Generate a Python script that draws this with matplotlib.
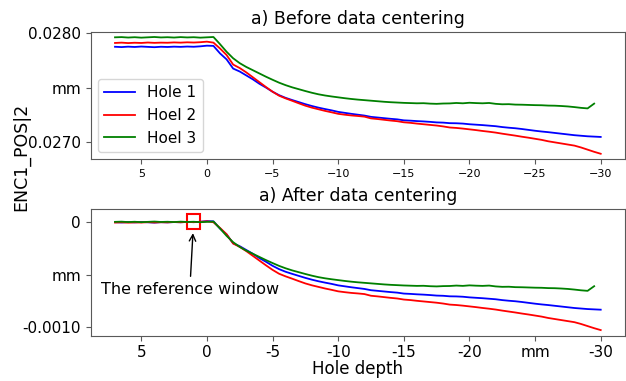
import numpy as np
import matplotlib
matplotlib.use('Agg')
import matplotlib.pyplot as plt
from matplotlib.patches import Rectangle

# hole depth [mm], sampled every 0.5 mm from the entry side
depth = [7.0, 6.5, 6.0, 5.5, 5.0, 4.5, 4.0, 3.5, 3.0, 2.5, 2.0, 1.5, 1.0, 0.5,
         0.0, -0.5, -1.0, -1.5, -2.0, -2.5, -3.0, -3.5, -4.0, -4.5, -5.0,
         -5.5, -6.0, -6.5, -7.0, -7.5, -8.0, -8.5, -9.0, -9.5, -10.0,
         -10.5, -11.0, -11.5, -12.0, -12.5, -13.0, -13.5, -14.0, -14.5, -15.0,
         -15.5, -16.0, -16.5, -17.0, -17.5, -18.0, -18.5, -19.0, -19.5, -20.0,
         -20.5, -21.0, -21.5, -22.0, -22.5, -23.0, -23.5, -24.0, -24.5, -25.0,
         -25.5, -26.0, -26.5, -27.0, -27.5, -28.0, -28.5, -29.0, -29.5, -30.0]

# ENC1_POS|2 readings [mm]
hole1 = [0.027876, 0.027873, 0.027877, 0.027874, 0.027878, 0.027875, 0.027872,
         0.027876, 0.027874, 0.027877, 0.027875, 0.027878, 0.027876, 0.027880,
         0.027886, 0.027884, 0.027815, 0.027760, 0.027675, 0.027648, 0.027612,
         0.027576, 0.027535, 0.027500, 0.027462, 0.027430, 0.027405, 0.027385,
         0.027366, 0.027347, 0.027330, 0.027315, 0.027302, 0.027290, 0.027276,
         0.027267, 0.027258, 0.027250, 0.027242, 0.027230, 0.027224, 0.027218,
         0.027212, 0.027207, 0.027198, 0.027195, 0.027191, 0.027188, 0.027184,
         0.027179, 0.027177, 0.027172, 0.027171, 0.027168, 0.027162, 0.027158,
         0.027154, 0.027149, 0.027144, 0.027136, 0.027130, 0.027125, 0.027118,
         0.027110, 0.027102, 0.027095, 0.027089, 0.027082, 0.027075, 0.027068,
         0.027061, 0.027056, 0.027051, 0.027048, 0.027045]

hole2 = [0.027911, 0.027914, 0.027910, 0.027913, 0.027911, 0.027915, 0.027912,
         0.027914, 0.027913, 0.027916, 0.027914, 0.027917, 0.027915, 0.027918,
         0.027923, 0.027914, 0.027860, 0.027800, 0.027712, 0.027680, 0.027640,
         0.027595, 0.027550, 0.027505, 0.027462, 0.027425, 0.027400, 0.027378,
         0.027355, 0.027333, 0.027315, 0.027300, 0.027285, 0.027272, 0.027258,
         0.027250, 0.027243, 0.027238, 0.027232, 0.027216, 0.027210, 0.027203,
         0.027196, 0.027190, 0.027180, 0.027175, 0.027168, 0.027162, 0.027156,
         0.027150, 0.027142, 0.027132, 0.027128, 0.027122, 0.027115, 0.027108,
         0.027100, 0.027093, 0.027085, 0.027075, 0.027066, 0.027057, 0.027047,
         0.027038, 0.027028, 0.027018, 0.027005, 0.026995, 0.026985, 0.026975,
         0.026965, 0.026948, 0.026928, 0.026908, 0.026890]

# hole 3 stops half a step earlier
hole3 = [0.027963, 0.027965, 0.027961, 0.027964, 0.027960, 0.027963, 0.027966,
         0.027962, 0.027964, 0.027961, 0.027965, 0.027962, 0.027964, 0.027960,
         0.027963, 0.027966, 0.027900, 0.027830, 0.027770, 0.027725, 0.027690,
         0.027660, 0.027630, 0.027600, 0.027572, 0.027545, 0.027522, 0.027502,
         0.027485, 0.027468, 0.027452, 0.027438, 0.027427, 0.027418, 0.027410,
         0.027402, 0.027395, 0.027389, 0.027384, 0.027379, 0.027374, 0.027369,
         0.027365, 0.027362, 0.027359, 0.027357, 0.027355, 0.027356, 0.027352,
         0.027350, 0.027353, 0.027354, 0.027358, 0.027355, 0.027360, 0.027357,
         0.027355, 0.027358, 0.027350, 0.027346, 0.027347, 0.027343, 0.027342,
         0.027340, 0.027338, 0.027337, 0.027334, 0.027333, 0.027330, 0.027326,
         0.027320, 0.027313, 0.027308, 0.027352]

labels = ['Hole 1', 'Hoel 2', 'Hoel 3']
colors = ['blue', 'red', 'green']

# reference window used for centering [mm depth]
ref_window = (0.5, 1.5)

top_ticks = [0.0280, 0.0275, 0.0270]
top_ticklabels = ['0.0280', 'mm', '0.0270']
bot_ticks = [0.0, -0.0005, -0.0010]
bot_ticklabels = ['0', 'mm', '-0.0010']
x_ticks = [5, 0, -5, -10, -15, -20, -25, -30]
x_ticklabels = ['5', '0', '-5', '-10', '-15', '-20', 'mm', '-30']


def centered(d, v):
  d = np.asarray(d)
  v = np.asarray(v)
  m = (d >= ref_window[0]) & (d <= ref_window[1])
  return v - v[m].mean()


def frame(ax):
  for s in ax.spines.values():
    s.set_edgecolor('0.35')
  ax.tick_params(color='0.35')


fig = plt.figure(figsize=(6.26, 3.81), dpi=100)
ax1 = fig.add_axes([0.1449, 0.5819, 0.8535, 0.3341])
ax2 = fig.add_axes([0.1449, 0.1189, 0.8535, 0.3325])

series = [hole1, hole2, hole3]

#top plot: raw readings
for vals, lab, col in zip(series, labels, colors):
  ax1.plot(depth[:len(vals)], vals, color=col, linewidth=1.3, label=lab)
ax1.set_xlim(8.85, -31.85)
ax1.set_ylim(0.026839, 0.028012)
ax1.set_xticks(x_ticks)
ax1.tick_params(axis='x', labelsize=8)
ax1.set_yticks(top_ticks)
ax1.set_yticklabels(top_ticklabels, fontsize=11)
ax1.set_title('a) Before data centering', fontsize=12.5)
ax1.legend(loc='lower left', fontsize=11)
frame(ax1)

#bottom plot: each hole minus its mean in the reference window
for vals, lab, col in zip(series, labels, colors):
  d = depth[:len(vals)]
  ax2.plot(d, centered(d, vals), color=col, linewidth=1.3, label=lab)
ax2.set_xlim(8.85, -31.85)
ax2.set_ylim(-0.00108, 0.000123)
ax2.set_xticks(x_ticks)
ax2.set_xticklabels(x_ticklabels, fontsize=11)
ax2.set_yticks(bot_ticks)
ax2.set_yticklabels(bot_ticklabels, fontsize=11)
ax2.set_title('a) After data centering', fontsize=12.5)
ax2.set_xlabel('Hole depth', fontsize=12, labelpad=0)
frame(ax2)

#the reference window box and its label
ax2.add_patch(Rectangle((ref_window[0], -0.00007), ref_window[1] - ref_window[0], 0.000145,
                        fill=False, edgecolor='red', linewidth=1.5))
ax2.annotate('The reference window', xy=(1.05, -0.00008), xytext=(1.3, -0.00064),
             ha='center', va='center', fontsize=11.5,
             arrowprops=dict(arrowstyle='->', color='black', linewidth=1))

fig.text(0.034, 0.588, 'ENC1_POS|2', rotation=90, ha='center', va='center', fontsize=12.5)

plt.savefig('out.png', dpi=100)
